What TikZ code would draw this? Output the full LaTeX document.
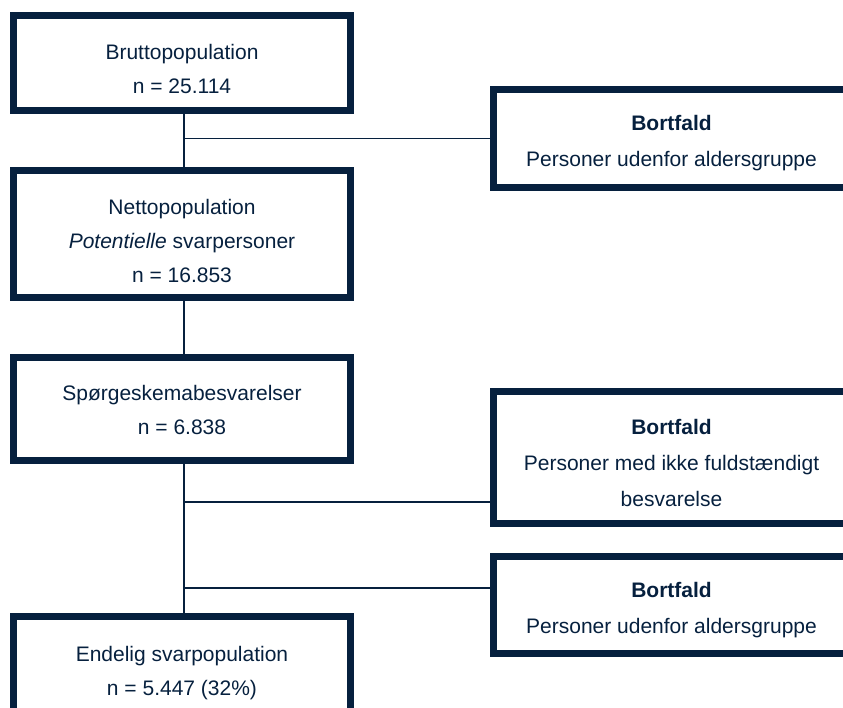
\documentclass[tikz,border=0pt]{standalone}
\usepackage{fontspec}
\setmainfont{Liberation Sans}
\definecolor{navy}{RGB}{6,32,62}

\begin{document}
\begin{tikzpicture}[x=1pt,y=1pt,yscale=-1,xscale=1,
  popbox/.style={draw=navy,line width=7pt,inner sep=0pt,minimum width=337pt},
  dropbox/.style={draw=navy,line width=7pt,inner sep=0pt,minimum width=356pt},
  poptext/.style={anchor=north,inner sep=0pt,align=center,text=navy,font=\fontsize{21}{34}\selectfont},
  droptext/.style={anchor=north,inner sep=0pt,align=center,text=navy,font=\fontsize{21}{36}\selectfont},
  link/.style={draw=navy,line width=1.6pt}]
\useasboundingbox (0,0) rectangle (843,708);
\clip (0,0) rectangle (843,708);

% Population boxes
\node[popbox,minimum height=95pt] (brutto) at (182,63) {};
\node[popbox,minimum height=127pt] (netto) at (182,234) {};
\node[popbox,minimum height=103pt] (svar) at (182,409) {};
\node[popbox,minimum height=120pt] (endelig) at (182,676.5) {};

% Bortfald boxes
\node[dropbox,minimum height=98pt] (bort1) at (671.5,138.5) {};
\node[dropbox,minimum height=132pt] (bort2) at (671.5,457.5) {};
\node[dropbox,minimum height=97pt] (bort3) at (671.5,605) {};

% Text Node
\node[poptext] (bruttotext) at ([yshift=32]brutto.north) {Bruttopopulation\\n = 25.114};
\node[poptext] (nettotext) at ([yshift=32]netto.north) {Nettopopulation\\\textit{Potentielle} svarpersoner\\n = 16.853};
\node[poptext] (svartext) at ([yshift=31]svar.north) {Spørgeskemabesvarelser\\n = 6.838};
\node[poptext] (endeligtext) at ([yshift=33]endelig.north) {Endelig svarpopulation\\n = 5.447 (32\%)};
\node[droptext] (bort1text) at ([yshift=29]bort1.north) {\textbf{Bortfald}\\Personer udenfor aldersgruppe};
\node[droptext] (bort2text) at ([yshift=31]bort2.north) {\textbf{Bortfald}\\Personer med ikke fuldstændigt\\besvarelse};
\node[droptext] (bort3text) at ([yshift=29]bort3.north) {\textbf{Bortfald}\\Personer udenfor aldersgruppe};

%Straight Lines
\coordinate (split2) at (184,502);
\coordinate (split3) at (184,588);
\draw[link] ([xshift=2]brutto.south) -- ([xshift=2]netto.north);
\draw[link] ([xshift=2]netto.south) -- ([xshift=2]svar.north);
\draw[link] ([xshift=2]svar.south) -- ([xshift=2]endelig.north);
\draw[link] (bort1.west) -- (bort1.west -| split2);
\draw[link] (split2) -- (split2 -| bort2.west);
\draw[link] (split3) -- (split3 -| bort3.west);

\end{tikzpicture}
\end{document}
